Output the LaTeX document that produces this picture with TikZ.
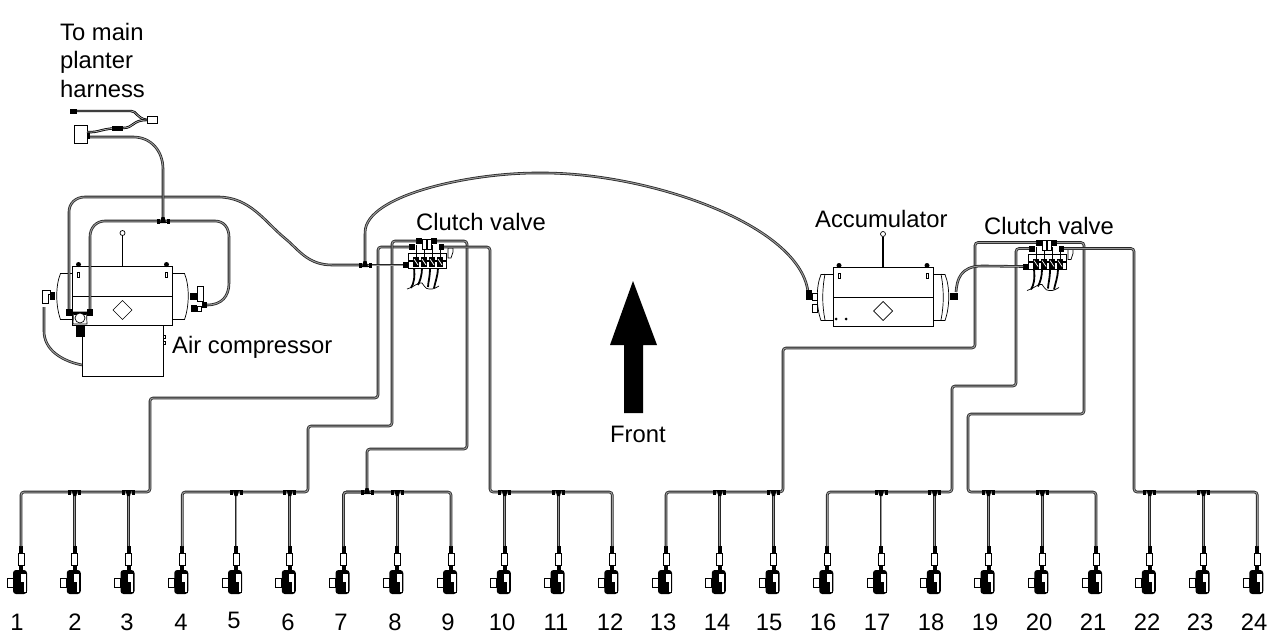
\documentclass[tikz,border=0pt]{standalone}
\usepackage{xcolor}
\usepackage{fontspec}
\setmainfont{Liberation Sans}
\tikzset{
  tube/.style={draw=black!85,line width=0.8pt,double=black!40,double distance=1pt,rounded corners=3pt},
  wire/.style={draw=black,line width=0.7pt},
  lead/.style={draw=black,line width=0.8pt,double=black!30,double distance=0.8pt},
  label/.style={inner sep=0pt,font=\fontsize{23.8}{28.5}\selectfont},
  teefit/.pic={
    \fill (-6.5,-2.5) rectangle (-3.5,2.5);
    \fill (3.5,-2.5) rectangle (6.5,2.5);
    \draw[wire] (-3.5,-1.5) -- (3.5,-1.5);
    \fill (-3,-2) -- (3,-2) -- (1.5,4) -- (-1.5,4) -- cycle;
  },
  rowunit/.pic={
    \fill (-2,0) rectangle (2,7);
    \draw[wire,fill=white] (-3,7) rectangle (3,19);
    \fill (-2,19) rectangle (2,25);
    \fill[rounded corners=3pt] (-8,24) rectangle (6,48);
    \draw[wire,fill=white] (-1,27) -- (5,27) -- (5,46) -- (-1,46) -- cycle;
    \draw[wire,fill=black] (-1,36) -- (2,36) -- (2,46) -- (-1,46) -- cycle;
    \draw[wire,fill=white] (-14,32) rectangle (-8,41);
  },
  tank/.pic={
    %caps
    \draw[wire] (-50,-22) -- (-62,-22) .. controls (-67,-10) and (-67,10) .. (-62,24) -- (-50,24);
    \draw[wire] (50,-22) -- (62,-22) .. controls (67,-10) and (67,10) .. (62,24) -- (50,24);
    %body
    \draw[wire] (-50,-29) -- (50,-29) -- (50,30) -- (-50,30) -- cycle;
    \draw[wire] (-50,1) -- (50,1);
    \draw[wire] (0,5) -- (9.5,14.5) -- (0,24) -- (-9.5,14.5) -- cycle;
    %pegs and slots
    \fill (-44,-31) circle (2.5);
    \fill (44,-31) circle (2.5);
    \draw[wire] (-45,-23.5) rectangle (-43,-18.5);
    \draw[wire] (43,-23.5) rectangle (45,-18.5);
    %hook
    \draw[line width=1.2pt] (0,-29) -- (0,-60);
    \draw[wire,fill=white] (0,-62.5) circle (2.5);
  },
  clutchvalve/.pic={
    \coordinate (tl) at (13,-24);
    \coordinate (tr) at (34,-24);
    \coordinate (ml) at (6,-18);
    \coordinate (mr) at (41,-18);
    \coordinate (in) at (0,0);
    %hoses
    \draw[line width=1.8pt] (11,3) .. controls (12,12) and (11,18) .. (8,23);
    \draw[line width=1.8pt] (19,3) .. controls (19,10) and (17,16) .. (15,20);
    \draw[line width=1.8pt] (27,3) .. controls (27,12) and (25,18) .. (25,22);
    \draw[line width=1.8pt] (35,3) .. controls (35,10) and (32,18) .. (31,23);
    \draw[wire] (4,24) .. controls (10,23) and (16,16) .. (19,18) .. controls (21,20) and (22,24) .. (26,24) .. controls (30,25) and (34,22) .. (36,21);
    %manifold
    \draw[wire,fill=white] (5,-12) rectangle (43,-5);
    \draw[wire,fill=white] (5,-4) rectangle (43,3);
    \foreach \k in {10,18,26,34} {
      \fill (\k,-8) rectangle ++(6,10);
      \draw[white,line width=0.7pt] (\k+1,-6) -- ++(4,6);
      \draw[wire] (\k+3,-20) -- (\k+3,-8);
    }
    %fittings
    \fill (0,-3) rectangle (5,3);
    \fill (13,-27) rectangle (19,-21);
    \fill (28,-27) rectangle (34,-21);
    \fill (6,-21) rectangle (12,-15);
    \fill (36,-21) rectangle (41,-15);
    \draw[wire,fill=white] (19,-26) -- (23,-26) -- (23,-16) -- (19,-16) -- cycle;
    \draw[wire,fill=white] (24,-26) -- (28,-26) -- (28,-16) -- (24,-16) -- cycle;
    \draw[wire,fill=white] (45,-17) -- (50,-17) -- (50,-13) -- (48,-7) -- (45,-7) -- cycle;
  }
}
\begin{document}
\begin{tikzpicture}[x=1pt,y=1pt,yscale=-1,xscale=1,every pic/.style={yscale=-1}]
\useasboundingbox (0,0) rectangle (1275,634);

%Shape: Tanks
\draw (122.5,295.5) pic (ctank) {tank};
\draw (883,296.5) pic (atank) {tank};
\draw[wire] (825,274) .. controls (822,290) and (822,305) .. (825,320);
\draw[wire] (941,274) .. controls (944,290) and (944,305) .. (941,320);
%Shape: Compressor box
\draw[wire,fill=white] (82,325) -- (163,325) -- (163,376) -- (82,376) -- cycle;
\draw[wire] (163,335.5) rectangle (165,338.5);
\draw[wire] (163,341.5) rectangle (165,344.5);
%Shape: Junction box
\draw[wire,fill=white] (74,125) -- (87,125) -- (87,143) -- (74,143) -- cycle;
%Shape: Harness connector
\draw[wire,fill=white] (147,116) -- (157,116) -- (157,123) -- (147,123) -- cycle;
\fill (70,108.5) rectangle (77,113.5);

\coordinate (jbox) at (87,137);
\coordinate (jtop) at (87,132);
\coordinate (conn) at (147,120);
\coordinate (plug) at (77,111);
\coordinate (cout) at (69,313);
\coordinate (cin) at (90,313);
\coordinate (cpress) at (207,305);
\coordinate (elbow) at (44,307);
\coordinate (cbox) at (82,365);
\coordinate (afit) at (808,292);
\coordinate (bfit) at (956,292);

%Valves and row units
\draw (403,265) pic (cva) {clutchvalve};
\draw (1023,266.5) pic (cvb) {clutchvalve};
\foreach \i in {1,...,24} {
  \coordinate (u\i) at ({21+53.75*(\i-1)},546);
  \draw (u\i) pic {rowunit};
}
\foreach \i in {2,3,5,6,8,10,11,14,15,17,18,19,20,22,23} {
  \coordinate (t\i) at (u\i |- 0,492);
}
\coordinate (t7) at (367,492);
\coordinate (tcv) at (365,265);
\coordinate (tcp) at (163,221);

%Straight Lines: rows
\draw[tube] (u1) |- (150,492) -- (150,398) -- (378,398) -- (378,247) -- (cvaml);
\draw[tube] (u4) |- (308,492) -- (308,426) -- (392,426) -- (392,241) -- (cvatl);
\draw[tube] (u7) |- (t7) -- (367,449) -- (467,449) -- (467,241) -- (cvatr);
\draw[tube] (u7) |- (u9 |- 0,492) -- (u9);
\draw[tube] (cvamr) -- (490,247) -- (490,492) -| (u12);
\draw[tube] (u13) |- (783,492) -- (783,348) -- (975,348) -- (975,242.5) -- (cvbtl);
\draw[tube] (u16) |- (952,492) -- (952,386) -- (1016,386) -- (1016,248.5) -- (cvbml);
\draw[tube] (u21) |- (968,492) -- (968,414) -- (1084,414) -- (1084,242.5) -- (cvbtr);
\draw[tube] (cvbmr) -- (1134,248.5) -- (1134,492) -| (u24);
\foreach \i in {2,3,5,6,8,10,11,14,15,17,18,19,20,22,23} {
  \draw[tube] (t\i) -- (u\i);
}

%Curves: air lines
\draw[tube] (cout) -- (69,215) .. controls (69,203) and (76,197) .. (88,197) -- (215,197) .. controls (250,197) and (265,222) .. (287,240) .. controls (300,252) and (310,265) .. (335,265) -- (tcv);
\draw[tube] (tcv) -- (cvain);
\draw[tube] (tcv) -- (365,235) .. controls (366,195) and (470,173) .. (540,173) .. controls (650,173) and (800,225) .. (afit);
\draw[tube] (cin) -- (90,240) .. controls (90,228) and (96,221) .. (108,221) -- (tcp) -- (212,221) .. controls (224,221) and (229,228) .. (229,240) -- (229,280) .. controls (229,296) and (222,305) .. (cpress);
\draw[tube] (jbox) -- (130,137) .. controls (152,137) and (163,152) .. (163,172) -- (tcp);
\draw[tube] (elbow) -- (44,328) .. controls (44,350) and (62,361) .. (cbox);
\draw[tube] (bfit) .. controls (957,280) and (960,266) .. (985,266) -- (cvbin);
\draw[lead] (plug) -- (131,111) .. controls (137,111) and (136,118) .. (conn);
\draw[lead] (jtop) .. controls (100,133) and (100,128) .. (123,128) .. controls (134,128) and (132,120) .. (conn);

%Shape: Fittings
\foreach \i in {2,3,5,6,8,10,11,14,15,17,18,19,20,22,23} {
  \draw (t\i) pic {teefit};
}
\draw (367,492) pic[yscale=-1] {teefit};
\draw (tcv) pic[yscale=-1] {teefit};
\draw (tcp) pic[yscale=-1] {teefit};
\fill (87,133) rectangle (90,139);
\fill (112,125.5) rectangle (123,130.5);
%Shape: Compressor fittings
\draw[wire,fill=white] (73.5,312) -- (86.5,312) -- (87,324) -- (73,324) -- cycle;
\fill (66,309) rectangle (72,316);
\fill (87,309) rectangle (93,316);
\fill (74,312) rectangle (86,315);
\fill (76,325) rectangle (85,337);
\draw[wire,fill=white] (80,318) circle (5);
\draw[wire,fill=white] (42,290) -- (50,290) -- (50,294) -- (48,294) -- (48,303) -- (42,303) -- cycle;
\fill (50,292) rectangle (55,300);
\draw[wire,fill=white] (197,286) rectangle (203,301);
\fill (190,293) rectangle (197,300);
\fill (191,305) rectangle (197,312);
\draw[wire,fill=white] (197,306) rectangle (201,311);
\fill (202,302) rectangle (207,308);
%Shape: Accumulator fittings
\fill (806,290) rectangle (812,300);
\draw[wire,fill=white] (812,293) rectangle (817,300);
\draw[wire,fill=white] (812,304) rectangle (817,312);
\fill (950,293) rectangle (958,300);
\fill (836,319) circle (1.5);
\fill (846,319) circle (1.5);

%Shape: Arrow
\fill (633,281) -- (657,345) -- (643,345) -- (643,413) -- (624,413) -- (624,345) -- (610,345) -- cycle;

% Text Node
\node[label,anchor=west,align=left] (lharness) at (60,60) {To main\\planter\\harness};
% Text Node
\node[label,anchor=west] (lcva) at (416,222) {Clutch valve};
% Text Node
\node[label,anchor=west] (lacc) at (815,219) {Accumulator};
% Text Node
\node[label,anchor=west] (lcvb) at (984,226) {Clutch valve};
% Text Node
\node[label,anchor=west] (lcomp) at (172,347) {Air compressor};
% Text Node
\node[label,anchor=west] (lfront) at (610,434) {Front};
% Text Nodes: row numbers
\foreach \i/\x/\y in {1/17/622,2/75/622,3/127/622,4/181/622,5/234/620,6/288/622,7/341/622,8/395/622,9/448/622,10/502/622,11/556/622,12/610/622,13/663/622,14/717/622,15/769/622,16/823/622,17/877/622,18/931/622,19/985/622,20/1039/622,21/1093/622,22/1147/622,23/1200/622,24/1254/622} {
  \node[label] (n\i) at (\x,\y) {\i};
}

\end{tikzpicture}
\end{document}
